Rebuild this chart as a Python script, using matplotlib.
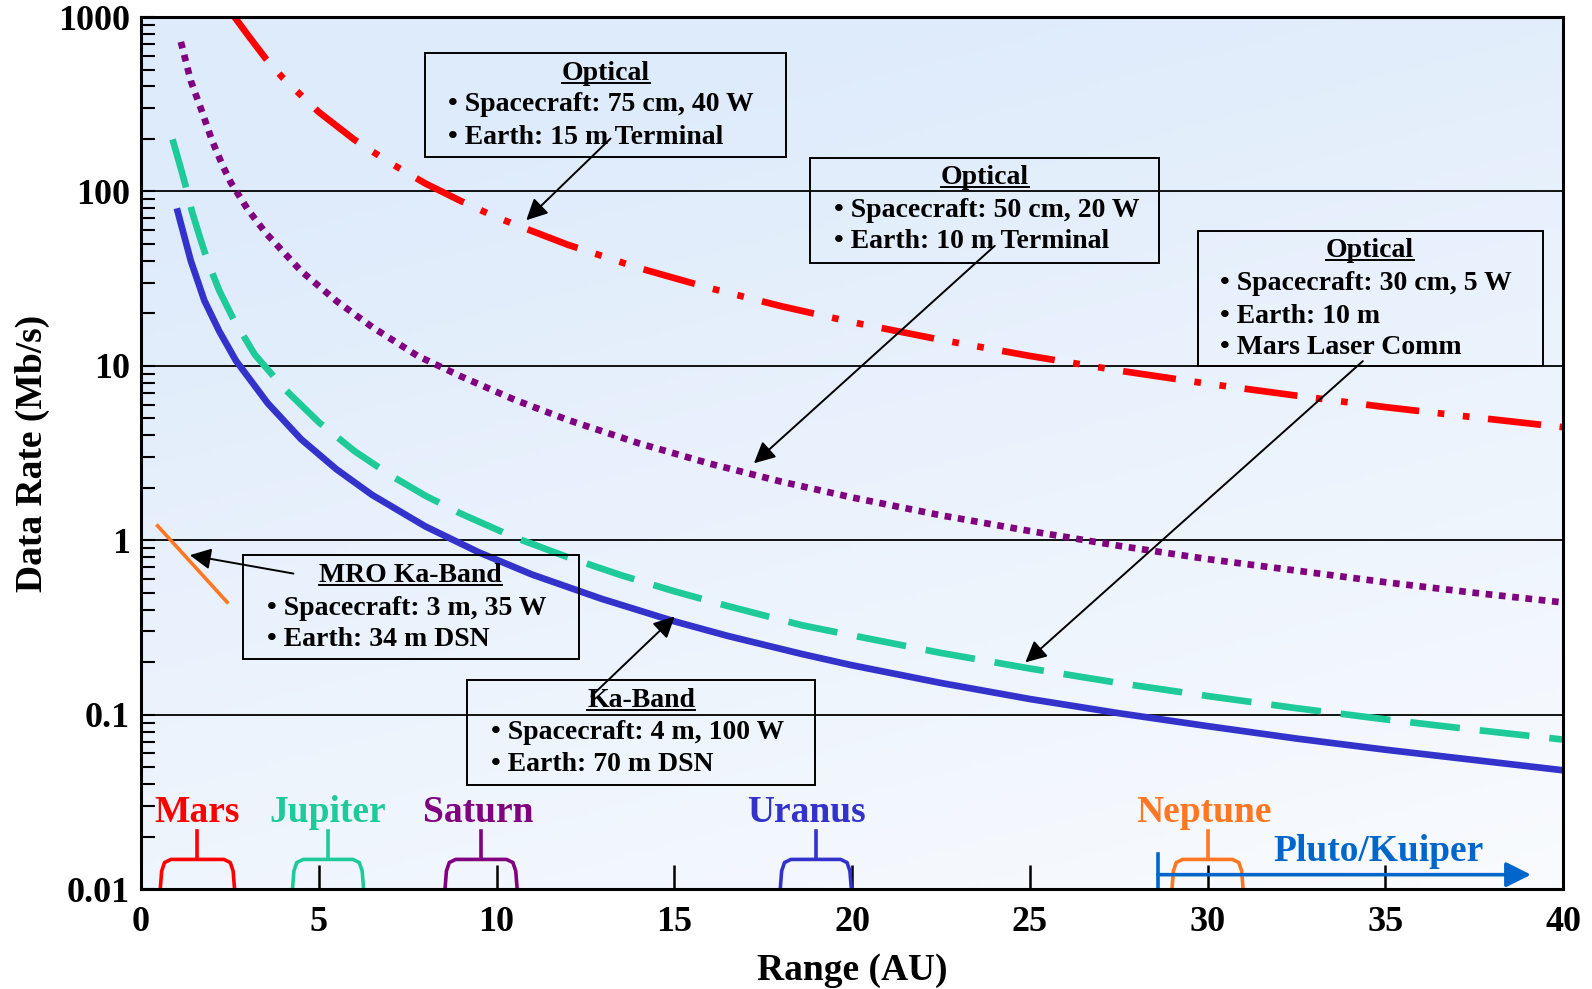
import numpy as np
import matplotlib
matplotlib.use('Agg')
import matplotlib.pyplot as plt
from matplotlib.colors import LinearSegmentedColormap
from matplotlib.patches import Rectangle

plt.rcParams['font.family'] = ['Liberation Serif', 'DejaVu Serif']
plt.rcParams['font.weight'] = 'bold'
plt.rcParams['axes.labelweight'] = 'bold'

# curves (range in AU, data rate in Mb/s)
red_x = [2.63, 3, 3.5, 4, 5, 6, 7, 8, 9, 10, 12, 14, 16, 18, 20, 22.5, 25, 27.5, 30, 32.5, 35, 37.5, 40]
red_y = [1000, 790, 580, 445, 285, 198, 146, 111, 88, 71, 49.5, 36.4, 27.9, 22, 17.8, 14.1, 11.4, 9.4, 7.9, 6.75, 5.8, 5.07, 4.45]

purple_x = [1.12, 1.4, 1.69, 2.0, 2.3, 2.53, 3.0, 3.5, 4.5, 5.5, 6.5, 7.78, 9, 10.5, 12, 14, 16, 18, 20, 22.5, 25, 27.5, 30, 32.5, 35, 37.5, 40]
purple_y = [720, 430, 296, 195, 140, 112, 79, 58, 35, 23.5, 16.7, 11.4, 8.7, 6.4, 4.9, 3.6, 2.75, 2.17, 1.76, 1.39, 1.13, 0.93, 0.78, 0.67, 0.575, 0.50, 0.44]

green_x = [0.886, 1.1, 1.28, 1.43, 1.65, 1.876, 2.2, 2.6, 3.2, 4.03, 5, 6, 7, 8, 9, 10.5, 12, 13.51, 15, 16.5, 18.58, 20, 22.5, 25, 27.5, 30, 32.5, 35, 37.5, 40]
green_y = [199, 140, 103, 77, 55, 39.6, 27, 18.5, 11.6, 7.4, 4.75, 3.25, 2.37, 1.8, 1.42, 1.04, 0.80, 0.63, 0.51, 0.42, 0.326, 0.285, 0.226, 0.184, 0.152, 0.128, 0.109, 0.094, 0.082, 0.072]

blue_x = [1.03, 1.4, 1.78, 2.2, 2.67, 3.565, 4.5, 5.5, 6.5, 8, 9.5, 11, 12.95, 15, 16.5, 18.58, 20, 22.5, 25, 27.5, 30, 32.5, 35, 37.5, 40]
blue_y = [76.7, 40, 23.7, 15.8, 10.7, 6.1, 3.8, 2.55, 1.82, 1.2, 0.853, 0.636, 0.462, 0.343, 0.283, 0.223, 0.192, 0.152, 0.123, 0.102, 0.086, 0.073, 0.063, 0.055, 0.048]

mro_x = [0.466, 2.42]
mro_y = [1.21, 0.442]

planet_names = ['Mars', 'Jupiter', 'Saturn', 'Uranus', 'Neptune']
planet_lo = [0.54, 4.26, 8.55, 17.98, 29.0]
planet_hi = [2.63, 6.26, 10.58, 19.98, 31.0]
planet_label_x = [1.58, 5.24, 9.49, 18.73, 29.9]
planet_colors = ['#FF0000', '#1ECB98', '#800080', '#3333CC', '#FF7722']

pluto_start = 28.6
pluto_end = 39.1

x_ticks = [0, 5, 10, 15, 20, 25, 30, 35, 40]
y_ticks = [0.01, 0.1, 1, 10, 100, 1000]
y_labels = ['0.01', '0.1', '1', '10', '100', '1000']

fig = plt.figure(figsize=(15.92, 9.89), dpi=100)
rect = [0.0886, 0.101, 0.8932, 0.8818]

# background gradient
bg = fig.add_axes(rect, zorder=0)
cmap = LinearSegmentedColormap.from_list('bg', ['#F9FBFE', '#DEEBFB'])
gx, gy = np.meshgrid(np.linspace(0, 1, 200), np.linspace(0, 1, 200))
bg.imshow(0.7 * gy + 0.3 * (1 - gx), cmap=cmap, origin='lower', extent=[0, 1, 0, 1], aspect='auto', vmin=0, vmax=0.85)
bg.axis('off')

ax = fig.add_axes(rect, zorder=1)
ax.set_facecolor('none')
ax.set_yscale('log')
ax.set_xlim(0, 40)
ax.set_ylim(0.01, 1000)

lw = 4.8
ax.plot(red_x, red_y, color='#FF0000', lw=lw, dashes=(8, 2.8, 1, 2.8, 1, 2.8), dash_capstyle='butt')
ax.plot(purple_x, purple_y, color='#800080', lw=lw, dashes=(1, 1), dash_capstyle='butt')
ax.plot(green_x, green_y, color='#1ECB98', lw=lw, dashes=(7.5, 3), dash_capstyle='butt')
ax.plot(blue_x, blue_y, color='#3333CC', lw=lw)
ax.plot(mro_x, mro_y, color='#FF7722', lw=2.6)

# planet range brackets
for name, lo, hi, lx, c in zip(planet_names, planet_lo, planet_hi, planet_label_x, planet_colors):
    bx = [lo, lo + 0.04, lo + 0.12, lo + 0.3, hi - 0.3, hi - 0.12, hi - 0.04, hi]
    by = [0.0100, 0.0127, 0.0142, 0.0148, 0.0148, 0.0142, 0.0127, 0.0100]
    ax.plot(bx, by, color=c, lw=2.6, clip_on=False, solid_joinstyle='round')
    mid = (lo + hi) / 2
    ax.plot([mid, mid], [0.0148, 0.0216], color=c, lw=2.6)
    ax.text(lx, 0.0275, name, color=c, fontsize=27, ha='center', va='center')

# Pluto / Kuiper arrow
ax.plot([pluto_start, pluto_start], [0.01, 0.0158], color='#0066CC', lw=2.6, clip_on=False)
ax.annotate('', xy=(pluto_end, 0.0121), xytext=(pluto_start, 0.0121),
            arrowprops=dict(arrowstyle='-|>', color='#0066CC', lw=2.6, mutation_scale=38, shrinkA=0, shrinkB=0))
ax.text(34.8, 0.0164, 'Pluto/Kuiper', color='#0066CC', fontsize=27, ha='center', va='center')

# ticks, grid, spines
ax.set_xticks(x_ticks)
ax.set_yticks(y_ticks, y_labels)
ax.tick_params(axis='x', which='major', direction='in', length=17, width=1.8, labelsize=26, pad=12, top=False)
ax.tick_params(axis='y', which='major', direction='in', length=10, width=1.5, labelsize=26, pad=8, right=False)
ax.tick_params(axis='y', which='minor', direction='in', length=10, width=1.5, right=False)
ax.yaxis.grid(True, which='major', color='k', lw=1.3)
for s in ax.spines.values():
    s.set_linewidth(2.2)

ax.set_xlabel('Range (AU)', fontsize=27, labelpad=10)
ax.set_ylabel('Data Rate (Mb/s)', fontsize=27, labelpad=6)

# annotation boxes: rect (x0, y0, x1, y1) in axes fraction, title pos, bullet x, bullet ys
boxes = [
    ((0.1994, 0.8396, 0.4539, 0.9590), 'Optical', (0.3267, 0.9356), 0.2159,
     ['Spacecraft: 75 cm, 40 W', 'Earth: 15 m Terminal'], [0.8993, 0.8618]),
    ((0.4704, 0.7178, 0.7162, 0.8384), 'Optical', (0.5933, 0.8162), 0.4875,
     ['Spacecraft: 50 cm, 20 W', 'Earth: 10 m Terminal'], [0.7787, 0.7424]),
    ((0.7435, 0.5995, 0.9857, 0.7541), 'Optical', (0.8642, 0.7319), 0.7591,
     ['Spacecraft: 30 cm, 5 W', 'Earth: 10 m', 'Mars Laser Comm'], [0.6944, 0.6569, 0.6206]),
    ((0.0715, 0.2635, 0.3081, 0.3829), 'MRO Ka-Band', (0.1894, 0.3595), 0.0886,
     ['Spacecraft: 3 m, 35 W', 'Earth: 34 m DSN'], [0.3220, 0.2857]),
    ((0.2295, 0.1194, 0.4739, 0.2401), 'Ka-Band', (0.3517, 0.2166), 0.2459,
     ['Spacecraft: 4 m, 100 W', 'Earth: 70 m DSN'], [0.1792, 0.1429]),
]
titles = []
for (x0, y0, x1, y1), title, tpos, bx, lines, ys in boxes:
    ax.add_patch(Rectangle((x0, y0), x1 - x0, y1 - y0, transform=ax.transAxes,
                           fill=False, ec='k', lw=1.4, zorder=3))
    titles.append(ax.text(tpos[0], tpos[1], title, transform=ax.transAxes, fontsize=20,
                          ha='center', va='center', zorder=4))
    for line, yy in zip(lines, ys):
        ax.text(bx, yy, '\u2022 ' + line, transform=ax.transAxes, fontsize=20,
                ha='left', va='center', zorder=4)

# arrows from boxes to curves (tail, head) in axes fraction
arrows = [
    ((0.3302, 0.8607), (0.2709, 0.7670)),
    ((0.6004, 0.7377), (0.4310, 0.4883)),
    ((0.8592, 0.6054), (0.6219, 0.2600)),
    ((0.1072, 0.3618), (0.0343, 0.3829)),
    ((0.3167, 0.2213), (0.3753, 0.3126)),
]
for tail, head in arrows:
    ax.annotate('', xy=head, xytext=tail, xycoords='axes fraction', textcoords='axes fraction',
                arrowprops=dict(arrowstyle='-|>', color='k', lw=1.4, mutation_scale=32,
                                shrinkA=0, shrinkB=0), zorder=5)

# underline box titles
fig.canvas.draw()
inv = ax.transAxes.inverted()
for t in titles:
    bb = t.get_window_extent()
    (ux0, uy0), (ux1, uy1) = inv.transform([[bb.x0, bb.y0], [bb.x1, bb.y1]])
    uy = uy0 + 0.12 * (uy1 - uy0)
    ax.plot([ux0, ux1], [uy, uy], color='k', lw=1.4, transform=ax.transAxes, zorder=4)

fig.savefig('out.png', dpi=100)
